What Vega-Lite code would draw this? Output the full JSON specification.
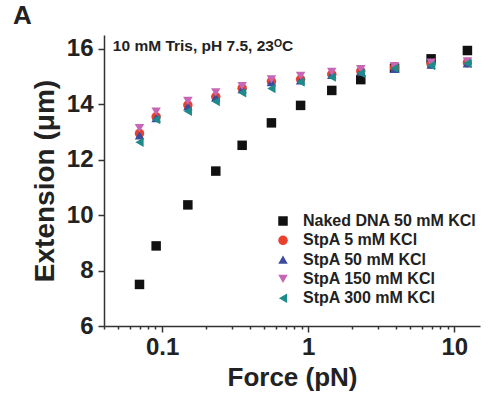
{
  "$schema": "https://vega.github.io/schema/vega-lite/v6.json",
  "width": 376,
  "height": 291,
  "autosize": "none",
  "padding": {"left": 104, "top": 35, "right": 17, "bottom": 74},
  "background": "white",
  "config": {
    "view": {"stroke": null},
    "font": "Liberation Sans",
    "axis": {"domainColor": "#333", "domainWidth": 1.5, "tickColor": "#333", "tickWidth": 1.5, "labelColor": "#222", "titleColor": "#222", "labelFont": "Liberation Sans", "titleFont": "Liberation Sans", "labelFontWeight": "bold", "titleFontWeight": "bold", "grid": false}
  },
  "title": {"text": "A", "anchor": "start", "frame": "group", "dx": -91, "offset": 6, "fontSize": 26, "fontWeight": "bold", "color": "#222", "font": "Liberation Sans"},
  "datasets": {
    "pts": [
      {"force": 0.07, "ext": 7.5, "series": "Naked DNA 50 mM KCl"},
      {"force": 0.091, "ext": 8.89, "series": "Naked DNA 50 mM KCl"},
      {"force": 0.15, "ext": 10.37, "series": "Naked DNA 50 mM KCl"},
      {"force": 0.233, "ext": 11.59, "series": "Naked DNA 50 mM KCl"},
      {"force": 0.353, "ext": 12.52, "series": "Naked DNA 50 mM KCl"},
      {"force": 0.56, "ext": 13.33, "series": "Naked DNA 50 mM KCl"},
      {"force": 0.887, "ext": 13.96, "series": "Naked DNA 50 mM KCl"},
      {"force": 1.45, "ext": 14.5, "series": "Naked DNA 50 mM KCl"},
      {"force": 2.29, "ext": 14.89, "series": "Naked DNA 50 mM KCl"},
      {"force": 3.9, "ext": 15.3, "series": "Naked DNA 50 mM KCl"},
      {"force": 6.94, "ext": 15.64, "series": "Naked DNA 50 mM KCl"},
      {"force": 12.3, "ext": 15.94, "series": "Naked DNA 50 mM KCl"},
      {"force": 0.07, "ext": 12.95, "series": "StpA 5 mM KCl"},
      {"force": 0.091, "ext": 13.55, "series": "StpA 5 mM KCl"},
      {"force": 0.15, "ext": 13.97, "series": "StpA 5 mM KCl"},
      {"force": 0.233, "ext": 14.27, "series": "StpA 5 mM KCl"},
      {"force": 0.353, "ext": 14.58, "series": "StpA 5 mM KCl"},
      {"force": 0.56, "ext": 14.82, "series": "StpA 5 mM KCl"},
      {"force": 0.887, "ext": 14.9, "series": "StpA 5 mM KCl"},
      {"force": 1.45, "ext": 15.08, "series": "StpA 5 mM KCl"},
      {"force": 2.29, "ext": 15.2, "series": "StpA 5 mM KCl"},
      {"force": 3.9, "ext": 15.32, "series": "StpA 5 mM KCl"},
      {"force": 6.94, "ext": 15.45, "series": "StpA 5 mM KCl"},
      {"force": 12.3, "ext": 15.5, "series": "StpA 5 mM KCl"},
      {"force": 0.07, "ext": 12.88, "series": "StpA 50 mM KCl"},
      {"force": 0.091, "ext": 13.5, "series": "StpA 50 mM KCl"},
      {"force": 0.15, "ext": 13.92, "series": "StpA 50 mM KCl"},
      {"force": 0.233, "ext": 14.25, "series": "StpA 50 mM KCl"},
      {"force": 0.353, "ext": 14.55, "series": "StpA 50 mM KCl"},
      {"force": 0.56, "ext": 14.8, "series": "StpA 50 mM KCl"},
      {"force": 0.887, "ext": 14.86, "series": "StpA 50 mM KCl"},
      {"force": 1.45, "ext": 15.06, "series": "StpA 50 mM KCl"},
      {"force": 2.29, "ext": 15.18, "series": "StpA 50 mM KCl"},
      {"force": 3.9, "ext": 15.28, "series": "StpA 50 mM KCl"},
      {"force": 6.94, "ext": 15.43, "series": "StpA 50 mM KCl"},
      {"force": 12.3, "ext": 15.48, "series": "StpA 50 mM KCl"},
      {"force": 0.07, "ext": 13.14, "series": "StpA 150 mM KCl"},
      {"force": 0.091, "ext": 13.74, "series": "StpA 150 mM KCl"},
      {"force": 0.15, "ext": 14.12, "series": "StpA 150 mM KCl"},
      {"force": 0.233, "ext": 14.43, "series": "StpA 150 mM KCl"},
      {"force": 0.353, "ext": 14.66, "series": "StpA 150 mM KCl"},
      {"force": 0.56, "ext": 14.9, "series": "StpA 150 mM KCl"},
      {"force": 0.887, "ext": 15.03, "series": "StpA 150 mM KCl"},
      {"force": 1.45, "ext": 15.17, "series": "StpA 150 mM KCl"},
      {"force": 2.29, "ext": 15.27, "series": "StpA 150 mM KCl"},
      {"force": 3.9, "ext": 15.38, "series": "StpA 150 mM KCl"},
      {"force": 6.94, "ext": 15.5, "series": "StpA 150 mM KCl"},
      {"force": 12.3, "ext": 15.55, "series": "StpA 150 mM KCl"},
      {"force": 0.07, "ext": 12.63, "series": "StpA 300 mM KCl"},
      {"force": 0.091, "ext": 13.45, "series": "StpA 300 mM KCl"},
      {"force": 0.15, "ext": 13.75, "series": "StpA 300 mM KCl"},
      {"force": 0.233, "ext": 14.1, "series": "StpA 300 mM KCl"},
      {"force": 0.353, "ext": 14.42, "series": "StpA 300 mM KCl"},
      {"force": 0.56, "ext": 14.57, "series": "StpA 300 mM KCl"},
      {"force": 0.887, "ext": 14.8, "series": "StpA 300 mM KCl"},
      {"force": 1.45, "ext": 14.98, "series": "StpA 300 mM KCl"},
      {"force": 2.29, "ext": 15.12, "series": "StpA 300 mM KCl"},
      {"force": 3.9, "ext": 15.3, "series": "StpA 300 mM KCl"},
      {"force": 6.94, "ext": 15.4, "series": "StpA 300 mM KCl"},
      {"force": 12.3, "ext": 15.48, "series": "StpA 300 mM KCl"}
    ],
    "note": [{"force": 0.046, "ext": 15.94, "label": "10 mM Tris, pH 7.5, 23ᴼC"}]
  },
  "layer": [
    {
      "data": {"name": "pts"},
      "mark": {"type": "point", "filled": true, "opacity": 1, "size": 90},
      "encoding": {
        "x": {
          "field": "force", "type": "quantitative",
          "scale": {"type": "log", "domain": [0.04, 15], "nice": false},
          "axis": {
            "title": "Force (pN)", "titleFontSize": 26, "titlePadding": 5,
            "values": [0.04, 0.05, 0.06, 0.07, 0.08, 0.09, 0.1, 0.2, 0.3, 0.4, 0.5, 0.6, 0.7, 0.8, 0.9, 1, 2, 3, 4, 5, 6, 7, 8, 9, 10],
            "labelExpr": "indexof([0.1, 1, 10], datum.value) >= 0 ? datum.label : ''",
            "labelFontSize": 24, "labelPadding": 3,
            "tickSize": {"condition": {"test": "indexof([0.1, 1, 10], datum.value) < 0", "value": 3}, "value": 6}
          }
        },
        "y": {
          "field": "ext", "type": "quantitative",
          "scale": {"domain": [6, 16.5], "nice": false, "zero": false},
          "axis": {
            "title": "Extension (μm)", "titleFontSize": 28, "titlePadding": 7,
            "values": [6, 7, 8, 9, 10, 11, 12, 13, 14, 15, 16],
            "labelExpr": "datum.value % 2 == 0 ? datum.label : ''",
            "labelFontSize": 24, "labelPadding": 5,
            "tickSize": {"condition": {"test": "datum.value % 2 == 1", "value": 3}, "value": 6}
          }
        },
        "color": {
          "field": "series", "type": "nominal",
          "scale": {
            "domain": ["Naked DNA 50 mM KCl", "StpA 5 mM KCl", "StpA 50 mM KCl", "StpA 150 mM KCl", "StpA 300 mM KCl"],
            "range": ["#111111", "#e8412f", "#3d4b9e", "#c766b4", "#1e8b8a"]
          },
          "legend": {
            "title": null, "orient": "none", "legendX": 171, "legendY": 178,
            "labelFontSize": 16, "labelFontWeight": "bold", "labelColor": "#222", "labelFont": "Liberation Sans", "labelLimit": 400,
            "symbolSize": 90, "rowPadding": 3.3, "labelOffset": 12, "symbolOpacity": 1
          }
        },
        "shape": {
          "field": "series", "type": "nominal",
          "scale": {
            "domain": ["Naked DNA 50 mM KCl", "StpA 5 mM KCl", "StpA 50 mM KCl", "StpA 150 mM KCl", "StpA 300 mM KCl"],
            "range": ["square", "circle", "triangle-up", "triangle-down", "triangle-left"]
          }
        }
      }
    },
    {
      "data": {"name": "note"},
      "mark": {"type": "text", "align": "left", "baseline": "alphabetic", "fontSize": 15.5, "fontWeight": "bold", "color": "#222", "font": "Liberation Sans"},
      "encoding": {
        "x": {"field": "force", "type": "quantitative"},
        "y": {"field": "ext", "type": "quantitative"},
        "text": {"field": "label"}
      }
    }
  ]
}
